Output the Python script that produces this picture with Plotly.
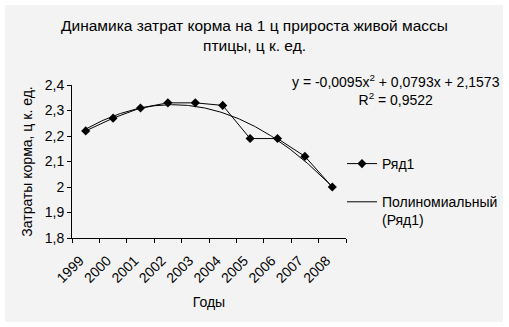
import numpy as np
import plotly.graph_objects as go

# Feed cost per 1 centner of poultry live-weight gain, by year
years = [1999, 2000, 2001, 2002, 2003, 2004, 2005, 2006, 2007, 2008]
feed_cost = [2.22, 2.27, 2.31, 2.33, 2.33, 2.32, 2.19, 2.19, 2.12, 2.00]

# Polynomial (2nd order) trend: y = a*t^2 + b*t + c, t = 1..10
trend_coef = [-0.0095, 0.0793, 2.1573]
r_squared = 0.9522

y_ticks = [1.8, 1.9, 2.0, 2.1, 2.2, 2.3, 2.4]
y_tick_labels = ["1,8", "1,9", "2", "2,1", "2,2", "2,3", "2,4"]

W, H = 509, 327
L, R, T, B = 72, 163, 85, 89
pw, ph = W - L - R, H - T - B

FONT = "Liberation Sans, Arial, sans-serif"
FS = 14

t_fine = np.linspace(1, len(years), 200)
a, b, c = trend_coef
trend_y = a * t_fine**2 + b * t_fine + c
trend_x = years[0] - 1 + t_fine

fig = go.Figure()
fig.add_trace(go.Scatter(
    x=years, y=feed_cost, mode="lines+markers", name="Ряд1",
    line=dict(color="black", width=1),
    marker=dict(symbol="diamond", size=7, color="black"),
    legendgroup="g1",
))
fig.add_trace(go.Scatter(
    x=trend_x, y=trend_y, mode="lines", name="Полиномиальный<br>(Ряд1)",
    line=dict(color="black", width=1),
    legendgroup="g2",
))


def fmt(v, nd=4):
    return f"{abs(v):.{nd}f}".replace(".", ",")


eq = (f"y = {'-' if a < 0 else ''}{fmt(a)}x<sup>2</sup> "
      f"{'+' if b >= 0 else '-'} {fmt(b)}x "
      f"{'+' if c >= 0 else '-'} {fmt(c)}"
      f"<br>R<sup>2</sup> = {fmt(r_squared)}")


def px_x(p):
    return (p - L) / pw


def px_y(p):
    return (H - B - p) / ph


fig.update_layout(
    width=W, height=H,
    margin=dict(l=L, r=R, t=T, b=B, autoexpand=False),
    paper_bgcolor="white",
    plot_bgcolor="rgba(0,0,0,0)",
    font=dict(family=FONT, size=FS, color="black"),
    title=dict(
        text="Динамика затрат корма на 1 ц прироста живой массы<br>птицы, ц к. ед.",
        x=0.5, xref="container", xanchor="center",
        y=1 - 31 / H, yref="container", yanchor="top",
        font=dict(family=FONT, size=15.5, color="black"),
    ),
    xaxis=dict(
        range=[years[0] - 0.5, years[-1] + 0.5],
        tickvals=years, ticktext=[str(y) for y in years],
        tickangle=-45, ticks="", showgrid=False, zeroline=False,
        showline=True, linecolor="black", linewidth=1,
        ticklabelshift=-6, ticklabelstandoff=8,
        minor=dict(tickvals=[y - 0.5 for y in years] + [years[-1] + 0.5],
                   ticks="outside", ticklen=4, tickcolor="black", showgrid=False),
        title=dict(text="Годы", standoff=12, font=dict(size=FS)),
        tickfont=dict(size=FS),
    ),
    yaxis=dict(
        range=[1.8, 2.4], tickvals=y_ticks, ticktext=y_tick_labels,
        ticks="outside", ticklen=4, tickcolor="black",
        showgrid=False, zeroline=False,
        showline=True, linecolor="black", linewidth=1,
        title=dict(text="Затраты корма, ц к. ед.", standoff=8, font=dict(size=FS)),
        tickfont=dict(size=FS),
    ),
    legend=dict(
        xref="container", yref="container",
        x=342 / W, y=1 - 148 / H, xanchor="left", yanchor="top",
        bgcolor="rgba(0,0,0,0)", itemwidth=30, valign="top",
        traceorder="grouped", tracegroupgap=17,
        font=dict(size=FS),
    ),
    showlegend=True,
    shapes=[dict(
        type="rect", xref="paper", yref="paper", layer="below",
        x0=px_x(5), x1=px_x(503), y0=px_y(322), y1=px_y(5),
        fillcolor="#f3f3f3", line=dict(width=0),
    )],
    annotations=[dict(
        text=eq, xref="paper", yref="paper",
        x=px_x(502), y=px_y(70), xanchor="right", yanchor="top",
        align="center", showarrow=False, font=dict(size=FS),
    )],
)

fig.write_html("out.html")
